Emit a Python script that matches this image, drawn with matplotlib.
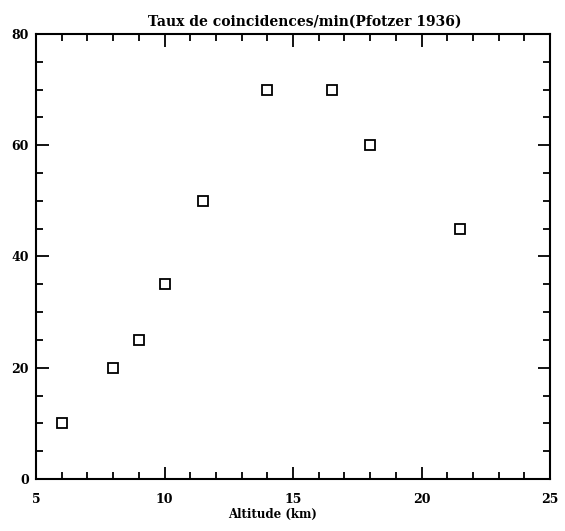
import matplotlib
matplotlib.use("Agg")
import matplotlib.pyplot as plt
from matplotlib.ticker import MultipleLocator

altitude = [6, 8, 9, 10, 11.5, 14, 16.5, 18, 21.5]
coincidences = [10, 20, 25, 35, 50, 70, 70, 60, 45]

plt.rcParams['font.family'] = 'DejaVu Serif'

fig = plt.figure(figsize=(5.65, 5.31), dpi=100)
ax = fig.add_axes([0.0637, 0.098, 0.91, 0.838])

ax.plot(altitude, coincidences, linestyle='none', marker='s', markersize=7,
        markerfacecolor='white', markeredgecolor='black', markeredgewidth=1.3)

ax.set_xlim(5, 25)
ax.set_ylim(0, 80)
ax.xaxis.set_major_locator(MultipleLocator(5))
ax.xaxis.set_minor_locator(MultipleLocator(1))
ax.yaxis.set_major_locator(MultipleLocator(20))
ax.yaxis.set_minor_locator(MultipleLocator(5))
ax.tick_params(which='both', direction='in', top=True, right=True, width=1.3,
               labelsize=9)
ax.tick_params(axis='x', pad=10)
ax.tick_params(axis='y', pad=5)
ax.tick_params(which='major', length=9)
ax.tick_params(which='minor', length=5)
for s in ax.spines.values():
    s.set_linewidth(1.5)
for lab in ax.get_xticklabels() + ax.get_yticklabels():
    lab.set_fontweight('bold')

ax.set_xlabel('Altitude (km)', fontsize=8.5, fontweight='bold')
ax.xaxis.set_label_coords(0.46, -0.065)
ax.set_title('Taux de coincidences/min(Pfotzer 1936)', fontsize=10,
             fontweight='bold', x=0.523, pad=6)

fig.savefig('out.png', dpi=100)
